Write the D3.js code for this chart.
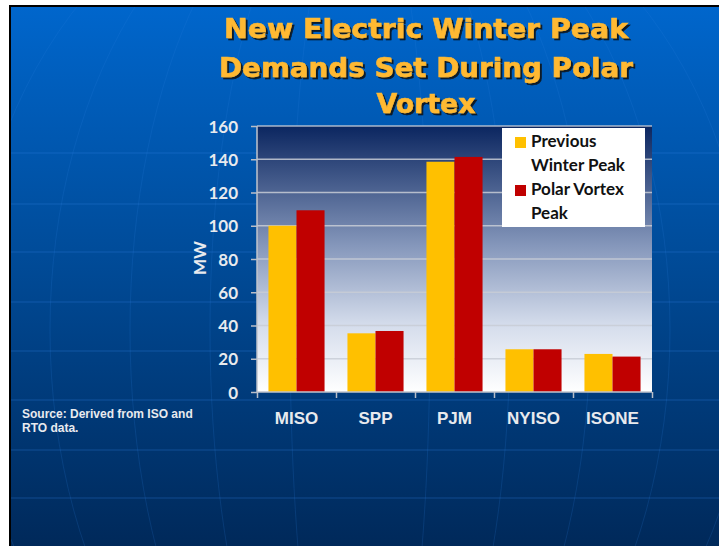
<!DOCTYPE html>
<html>
<head>
<meta charset="utf-8">
<script src="https://cdn.jsdelivr.net/npm/d3@7"></script>
<style>
  body { margin: 0; background: #fff; }
  svg { display: block; }
</style>
</head>
<body>
<svg id="chart" width="719" height="546"></svg>
<script>
// data
var regions = ["MISO", "SPP", "PJM", "NYISO", "ISONE"];
var seriesNames = ["Previous Winter Peak", "Polar Vortex Peak"];
var previousPeak = [100, 35.3, 138.5, 25.7, 22.9];
var vortexPeak = [109.3, 36.7, 141.4, 25.7, 21.3];
var yTicks = [0, 20, 40, 60, 80, 100, 120, 140, 160];
var titleLines = ["New Electric Winter Peak", "Demands Set During Polar", "Vortex"];
var sourceLines = ["Source: Derived from ISO and", "RTO data."];
var legendLines = [["Previous", "Winter Peak"], ["Polar Vortex", "Peak"]];

var colors = ["#FFC000", "#C00000"];

var svg = d3.select("#chart");
var defs = svg.append("defs");

// slide background
var bg = defs.append("linearGradient").attr("id", "slideGrad")
    .attr("x1", 0).attr("y1", 0).attr("x2", 0).attr("y2", 1);
bg.append("stop").attr("offset", "0%").attr("stop-color", "#0066CC");
bg.append("stop").attr("offset", "45%").attr("stop-color", "#004C9A");
bg.append("stop").attr("offset", "100%").attr("stop-color", "#00295A");

var pg = defs.append("linearGradient").attr("id", "plotGrad")
    .attr("x1", 0).attr("y1", 0).attr("x2", 0).attr("y2", 1);
pg.append("stop").attr("offset", "0%").attr("stop-color", "#0B2660");
pg.append("stop").attr("offset", "45%").attr("stop-color", "#8597BB");
pg.append("stop").attr("offset", "75%").attr("stop-color", "#D5DDEC");
pg.append("stop").attr("offset", "100%").attr("stop-color", "#FFFFFF");

defs.append("filter").attr("id", "titleShadow")
    .attr("x", "-5%").attr("y", "-20%").attr("width", "115%").attr("height", "150%")
  .append("feDropShadow").attr("dx", 2).attr("dy", 2).attr("stdDeviation", 0.6)
    .attr("flood-color", "#111").attr("flood-opacity", 0.85);

defs.append("clipPath").attr("id", "slideClip")
  .append("rect").attr("x", 11).attr("y", 7).attr("width", 708).attr("height", 539);

// black frame edge
svg.append("rect").attr("x", 9).attr("y", 5).attr("width", 710).attr("height", 541).attr("fill", "#000");
svg.append("rect").attr("x", 11).attr("y", 7).attr("width", 708).attr("height", 539).attr("fill", "url(#slideGrad)");

// faint globe lines
var globe = svg.append("g").attr("clip-path", "url(#slideClip)")
    .attr("fill", "none").attr("stroke", "#2F82E0");
[153, 204, 252, 302, 351, 400, 450, 498].forEach(function(gy) {
  globe.append("line").attr("x1", 11).attr("x2", 719).attr("y1", gy).attr("y2", gy)
    .attr("stroke-width", 1.2).attr("stroke-opacity", 0.35);
});
[70, 150, 230, 310, 390].forEach(function(rx) {
  globe.append("ellipse").attr("cx", 360).attr("cy", 330).attr("rx", rx).attr("ry", 470)
    .attr("stroke-width", 1).attr("stroke-opacity", 0.18);
});

// plot
var plotL = 257, plotR = 652, plotT = 126, plotB = 392;

var x0 = d3.scaleBand().domain(regions).range([plotL, plotR])
    .paddingInner(0.29).paddingOuter(0.145);
var x1 = d3.scaleBand().domain([0, 1]).range([0, x0.bandwidth()]);
var y = d3.scaleLinear().domain([0, 160]).range([plotB, plotT]);

svg.append("rect").attr("x", plotL).attr("y", plotT)
    .attr("width", plotR - plotL).attr("height", plotB - plotT)
    .attr("fill", "url(#plotGrad)");

svg.append("g").selectAll("line").data(yTicks.slice(1)).enter().append("line")
    .attr("x1", plotL).attr("x2", plotR)
    .attr("y1", function(d) { return y(d); }).attr("y2", function(d) { return y(d); })
    .attr("stroke", "#C8CDD6").attr("stroke-width", 1.5).attr("stroke-opacity", 0.85);

var rows = regions.map(function(r, i) { return {region: r, values: [previousPeak[i], vortexPeak[i]]}; });

var groups = svg.append("g").selectAll("g").data(rows).enter().append("g")
    .attr("transform", function(d) { return "translate(" + x0(d.region) + ",0)"; });

groups.selectAll("rect").data(function(d) { return d.values; }).enter().append("rect")
    .attr("x", function(d, i) { return x1(i); })
    .attr("width", x1.bandwidth())
    .attr("y", function(d) { return y(d); })
    .attr("height", function(d) { return plotB - y(d); })
    .attr("fill", function(d, i) { return colors[i]; });

// axes
var yAxis = d3.axisLeft(y).tickValues(yTicks).tickSize(6).tickPadding(13);
var yg = svg.append("g").attr("transform", "translate(" + plotL + ",0)").call(yAxis);
yg.select(".domain").attr("stroke", "#C0C4CC").attr("stroke-width", 1.5).attr("d", "M0," + plotT + "V" + plotB);
yg.selectAll(".tick line").attr("stroke", "#B8BEC8").attr("stroke-width", 1.5);
yg.selectAll(".tick text")
    .attr("fill", "#E8EAEE").attr("font-family", "Lato, 'Open Sans', sans-serif")
    .attr("font-weight", 700).attr("font-size", 17).attr("dy", "0.36em");

var xb = d3.scaleLinear().domain([0, regions.length]).range([plotL, plotR]);
var xAxis = d3.axisBottom(xb).ticks(regions.length).tickSize(6).tickFormat("");
var xg = svg.append("g").attr("transform", "translate(0," + plotB + ")").call(xAxis);
xg.select(".domain").attr("stroke", "#C0C4CC").attr("stroke-width", 1.5).attr("d", "M" + plotL + ",0H" + plotR);
xg.selectAll(".tick line").attr("stroke", "#B8BEC8").attr("stroke-width", 1.5);

svg.append("g").selectAll("text").data(regions).enter().append("text")
    .attr("x", function(d) { return x0(d) + x0.bandwidth() / 2; })
    .attr("y", 424)
    .attr("text-anchor", "middle")
    .attr("fill", "#E8EAEE")
    .attr("font-family", "'Liberation Sans Narrow', 'Arial Narrow', 'Liberation Sans', sans-serif")
    .attr("font-weight", 700).attr("font-size", 17)
    .text(function(d) { return d; });

svg.append("text")
    .attr("transform", "translate(206,258) rotate(-90)")
    .attr("text-anchor", "middle")
    .attr("fill", "#E8EAEE")
    .attr("font-family", "Lato, 'Open Sans', sans-serif")
    .attr("font-weight", 700).attr("font-size", 17)
    .text("MW");

// legend
var lg = svg.append("g");
lg.append("rect").attr("x", 502).attr("y", 128).attr("width", 143).attr("height", 99).attr("fill", "#fff");
legendLines.forEach(function(lines, i) {
  var base = 147 + i * 48;
  lg.append("rect").attr("x", 515).attr("y", base - 10).attr("width", 11).attr("height", 11).attr("fill", colors[i]);
  lines.forEach(function(t, j) {
    lg.append("text").attr("x", 531).attr("y", base + j * 24)
      .attr("font-family", "Lato, 'Open Sans', sans-serif")
      .attr("font-weight", 700).attr("font-size", 17).attr("fill", "#111")
      .text(t);
  });
});

// title
var titleY = [38, 76.5, 113];
var titleW = [404, 414, 99];
var tg = svg.append("g").attr("filter", "url(#titleShadow)");
titleLines.forEach(function(t, i) {
  tg.append("text")
    .attr("x", 426).attr("y", titleY[i])
    .attr("text-anchor", "middle")
    .attr("textLength", titleW[i]).attr("lengthAdjust", "spacingAndGlyphs")
    .attr("font-family", "'DejaVu Sans', Verdana, sans-serif")
    .attr("font-weight", 700).attr("font-size", 27)
    .attr("fill", "#FFB933")
    .attr("stroke", "#FFB933").attr("stroke-width", 0.6)
    .text(t);
});

// source note
sourceLines.forEach(function(t, i) {
  svg.append("text").attr("x", 22).attr("y", 418 + i * 13.5)
    .attr("font-family", "'Liberation Sans', Arial, sans-serif")
    .attr("font-weight", 700).attr("font-size", 12).attr("fill", "#E8EAEE")
    .text(t);
});
</script>
</body>
</html>
